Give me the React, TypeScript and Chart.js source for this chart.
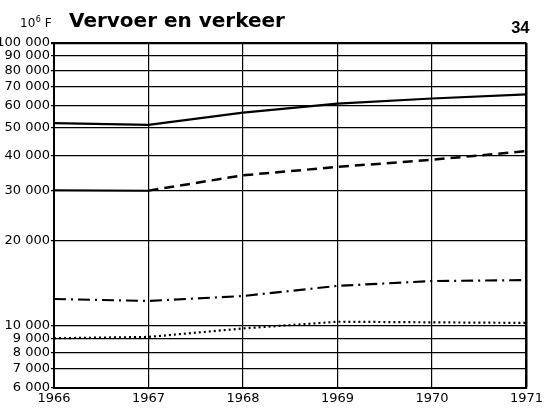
import React, { useEffect, useRef } from "react";
import { Chart, registerables } from "chart.js";

Chart.register(...registerables);

const YEARS = [1966, 1967, 1968, 1969, 1970, 1971];
const SERIES_SOLID = [52000, 51300, 56700, 61000, 63600, 65800];
const SERIES_DASHED = [30100, 30000, 34000, 36400, 38600, 41400];
const SERIES_DASHDOT = [12400, 12200, 12700, 13800, 14350, 14470];
const SERIES_DOTTED = [9000, 9100, 9750, 10300, 10250, 10200];
const Y_TICKS = [6000, 7000, 8000, 9000, 10000, 20000, 30000, 40000, 50000, 60000, 70000, 80000, 90000, 100000];
const TITLE = "Vervoer en verkeer";
const UNIT_BASE = "10";
const UNIT_EXP = "6";
const UNIT_SYM = "F";
const PAGE = "34";

const fmt = (v: number) => `${Math.round(v / 1000)} 000`;

const toPoints = (vals: number[]) => YEARS.map((x, i) => ({ x, y: vals[i] }));

const titlePlugin = {
  id: "titles",
  afterDraw(chart: any) {
    const ctx = chart.ctx;
    ctx.save();
    ctx.fillStyle = "#000";
    ctx.textBaseline = "alphabetic";
    ctx.textAlign = "left";
    const base = 26.5;
    ctx.font = "12px 'DejaVu Sans', sans-serif";
    ctx.fillText(UNIT_BASE, 20, base);
    let x = 20 + ctx.measureText(UNIT_BASE).width + 0.5;
    ctx.font = "8px 'DejaVu Sans', sans-serif";
    ctx.fillText(UNIT_EXP, x, base - 4.5);
    x += ctx.measureText(UNIT_EXP).width + 4;
    ctx.font = "12px 'DejaVu Sans', sans-serif";
    ctx.fillText(UNIT_SYM, x, base);
    ctx.font = "bold 20px 'DejaVu Sans', sans-serif";
    ctx.fillText(TITLE, 69, base);
    ctx.font = "bold 16.5px 'Liberation Sans', Arial, sans-serif";
    ctx.textAlign = "right";
    ctx.fillText(PAGE, 529.5, 33);
    ctx.restore();
  },
};

export default function App() {
  const ref = useRef<HTMLCanvasElement | null>(null);
  useEffect(() => {
    document.body.style.margin = "0";
    const common = { borderColor: "#000", pointRadius: 0, fill: false, tension: 0 };
    const chart = new Chart(ref.current as HTMLCanvasElement, {
      type: "line",
      data: {
        datasets: [
          { ...common, data: toPoints(SERIES_SOLID), borderWidth: 2.2 },
          {
            ...common,
            data: toPoints(SERIES_DASHED),
            borderWidth: 2.5,
            borderDash: [10, 6],
            segment: {
              borderDash: (c: any) => (c.p0DataIndex === 0 ? [] : [10, 6]),
              borderWidth: (c: any) => (c.p0DataIndex === 0 ? 2 : 2.5),
            },
          },
          { ...common, data: toPoints(SERIES_DASHDOT), borderWidth: 2.2, borderDash: [12, 5, 2, 5] },
          { ...common, data: toPoints(SERIES_DOTTED), borderWidth: 2.2, borderDash: [2, 3] },
        ],
      },
      options: {
        responsive: false,
        animation: false,
        devicePixelRatio: 1,
        layout: { padding: { top: 43, right: 19, left: 0, bottom: 0 } },
        plugins: { legend: { display: false }, tooltip: { enabled: false }, title: { display: false } },
        scales: {
          x: {
            type: "linear",
            min: 1966,
            max: 1971,
            afterBuildTicks: (s: any) => {
              s.ticks = YEARS.map((v) => ({ value: v }));
            },
            afterFit: (s: any) => {
              s.height = 21;
            },
            grid: {
              color: "#000",
              lineWidth: (c: any) => (c.tick && c.tick.value === 1971 ? 2.5 : 1.2),
              drawTicks: false,
            },
            border: { display: true, color: "#000", width: 2 },
            ticks: {
              color: "#000",
              padding: 3,
              maxRotation: 0,
              font: { family: "'DejaVu Sans', sans-serif", size: 13 },
              callback: (v: any) => String(v),
            },
          },
          y: {
            type: "logarithmic",
            min: 6000,
            max: 100000,
            afterBuildTicks: (s: any) => {
              s.ticks = Y_TICKS.map((v) => ({ value: v }));
            },
            afterFit: (s: any) => {
              s.width = 54;
            },
            grid: {
              color: "#000",
              lineWidth: (c: any) => (c.tick && c.tick.value === 100000 ? 2.2 : 1.2),
              tickLength: 3,
            },
            border: { display: true, color: "#000", width: 2 },
            ticks: {
              color: "#000",
              padding: 1,
              autoSkip: false,
              font: { family: "'DejaVu Sans', sans-serif", size: 13 },
              callback: (v: any) => fmt(Number(v)),
            },
          },
        },
      },
      plugins: [titlePlugin],
    } as any);
    return () => chart.destroy();
  }, []);
  return (
    <div style={{ position: "absolute", left: 0, top: 0, width: 546, height: 409, background: "#fff" }}>
      <canvas ref={ref} width={546} height={409} />
    </div>
  );
}
